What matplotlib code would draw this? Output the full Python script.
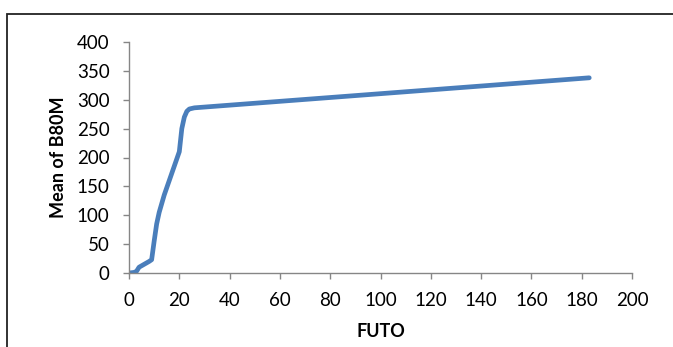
import matplotlib
matplotlib.use('Agg')
import matplotlib.pyplot as plt
from matplotlib.patches import Rectangle

# values
futo = [0, 2, 3, 4, 6, 8, 9, 10, 11, 12, 14, 16, 18, 20, 21, 22, 23, 24, 26, 183]
b80m = [0, 1, 3, 10, 15, 20, 23, 55, 85, 105, 135, 160, 185, 210, 250, 270,
        280, 284, 286, 338]
x_ticks = list(range(0, 201, 20))
y_ticks = list(range(0, 401, 50))

plt.rcParams['font.family'] = ['Lato', 'DejaVu Sans']

fig = plt.figure(figsize=(6.73, 3.47), dpi=100)
ax = fig.add_axes([129 / 673, 1 - 273 / 347, 503 / 673, 231 / 347])

ax.plot(futo, b80m, color='#4a7ebb', linewidth=3.4,
        solid_capstyle='round', solid_joinstyle='round')

ax.set_xlim(0, 200)
ax.set_ylim(0, 400)
ax.set_xticks(x_ticks)
ax.set_yticks(y_ticks)

for side in ['top', 'right']:
    ax.spines[side].set_visible(False)
for side in ['left', 'bottom']:
    ax.spines[side].set_color('#868686')
    ax.spines[side].set_linewidth(1.0)
ax.tick_params(direction='out', length=4, width=1.0, color='#868686',
               labelsize=13.5, labelcolor='black')
ax.tick_params(axis='x', pad=10)
ax.tick_params(axis='y', pad=10)

ax.set_xlabel('FUTO', fontsize=13, fontweight='bold', labelpad=10)
ax.set_ylabel('Mean of B80M', fontsize=13, fontweight='bold', labelpad=7)

# outer chart frame, cut off at the right and bottom
fig.patches.append(Rectangle((7 / 673, -0.1), 1.2, 0.1 + (1 - 14 / 347),
                             transform=fig.transFigure, fill=False,
                             edgecolor='#222222', linewidth=1.3))

plt.savefig('out.png', dpi=100)
